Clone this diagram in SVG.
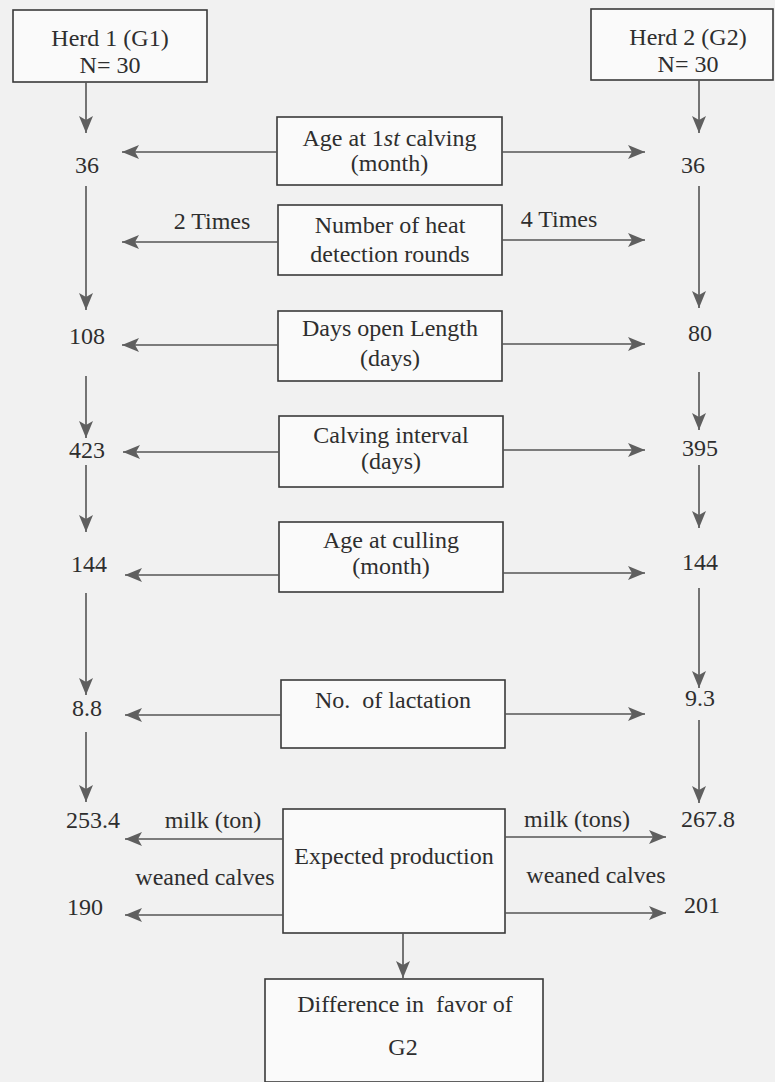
<svg xmlns="http://www.w3.org/2000/svg" width="775" height="1082" viewBox="0 0 775 1082">
<style>
.bg{fill:#f1f1f1}
.box{fill:#fafafa;stroke:#3a3a3a;stroke-width:1.6}
.t{font-family:'Liberation Serif','DejaVu Serif',serif;font-size:24px;fill:#2e2e2e;text-anchor:middle}
.c{fill:none;stroke:#555;stroke-width:1.6}
</style>
<defs>
<marker id="arr" markerUnits="userSpaceOnUse" markerWidth="18" markerHeight="16" refX="17" refY="7" orient="auto">
<path d="M0,0 L17,7 L0,14 L4,7 Z" fill="#5f5f5f"/>
</marker>
</defs>
<rect class="bg" x="0" y="0" width="775" height="1082"/>

<g id="herd1"><rect class="box" x="13" y="10" width="194" height="72"/>
<text class="t" x="110" y="46">Herd 1 (G1)</text><text class="t" x="110" y="73">N= 30</text></g>
<g id="herd2"><rect class="box" x="591" y="9" width="182" height="71"/>
<text class="t" x="688" y="45">Herd 2 (G2)</text><text class="t" x="688" y="72">N= 30</text></g>

<g id="age1"><rect class="box" x="277" y="117" width="225" height="68"/>
<text class="t" x="389.5" y="146">Age at 1<tspan font-style="italic">st</tspan> calving</text><text class="t" x="389.5" y="171">(month)</text></g>
<g id="heat"><rect class="box" x="278" y="205" width="224" height="70"/>
<text class="t" x="390" y="233">Number of heat</text><text class="t" x="390" y="262">detection rounds</text></g>
<g id="daysopen"><rect class="box" x="278" y="311" width="224" height="70"/>
<text class="t" x="390" y="336">Days open Length</text><text class="t" x="390" y="366">(days)</text></g>
<g id="calvint"><rect class="box" x="279" y="416" width="224" height="71"/>
<text class="t" x="391" y="443">Calving interval</text><text class="t" x="391" y="469">(days)</text></g>
<g id="culling"><rect class="box" x="279" y="522" width="224" height="70"/>
<text class="t" x="391" y="548">Age at culling</text><text class="t" x="391" y="574">(month)</text></g>
<g id="lact"><rect class="box" x="281" y="680" width="224" height="68"/>
<text class="t" x="393" y="708" xml:space="preserve">No.  of lactation</text></g>
<g id="prod"><rect class="box" x="283" y="809" width="222" height="124"/>
<text class="t" x="394" y="864">Expected production</text></g>
<g id="diff"><rect class="box" x="265" y="979" width="278" height="103"/>
<text class="t" x="405" y="1012" xml:space="preserve">Difference in  favor of</text><text class="t" x="403" y="1055">G2</text></g>

<g id="values">
<text class="t" x="87" y="173">36</text><text class="t" x="693" y="173">36</text>
<text class="t" x="212" y="229">2 Times</text><text class="t" x="559" y="227">4 Times</text>
<text class="t" x="87" y="344">108</text><text class="t" x="700" y="341">80</text>
<text class="t" x="87" y="458">423</text><text class="t" x="700" y="456">395</text>
<text class="t" x="89" y="572">144</text><text class="t" x="700" y="570">144</text>
<text class="t" x="87" y="716">8.8</text><text class="t" x="700" y="706">9.3</text>
<text class="t" x="93" y="828">253.4</text><text class="t" x="708" y="827">267.8</text>
<text class="t" x="213" y="828">milk (ton)</text><text class="t" x="577" y="827">milk (tons)</text>
<text class="t" x="205" y="885">weaned calves</text><text class="t" x="596" y="883">weaned calves</text>
<text class="t" x="85" y="915">190</text><text class="t" x="702" y="913">201</text>
</g>

<g id="connectors" class="c">
<line x1="86" y1="82" x2="86" y2="133" marker-end="url(#arr)"/>
<line x1="86" y1="186" x2="86" y2="310" marker-end="url(#arr)"/>
<line x1="86" y1="376" x2="86" y2="438" marker-end="url(#arr)"/>
<line x1="86" y1="465" x2="86" y2="532" marker-end="url(#arr)"/>
<line x1="86" y1="593" x2="86" y2="695" marker-end="url(#arr)"/>
<line x1="86" y1="732" x2="86" y2="802" marker-end="url(#arr)"/>
<line x1="699" y1="80" x2="699" y2="133" marker-end="url(#arr)"/>
<line x1="699" y1="186" x2="699" y2="308" marker-end="url(#arr)"/>
<line x1="699" y1="372" x2="699" y2="430" marker-end="url(#arr)"/>
<line x1="699" y1="465" x2="699" y2="528" marker-end="url(#arr)"/>
<line x1="699" y1="588" x2="699" y2="688" marker-end="url(#arr)"/>
<line x1="699" y1="720" x2="699" y2="803" marker-end="url(#arr)"/>
<line x1="277" y1="152" x2="122" y2="152" marker-end="url(#arr)"/>
<line x1="502" y1="152" x2="645" y2="152" marker-end="url(#arr)"/>
<line x1="278" y1="242" x2="122" y2="242" marker-end="url(#arr)"/>
<line x1="502" y1="240" x2="645" y2="240" marker-end="url(#arr)"/>
<line x1="278" y1="345" x2="122" y2="345" marker-end="url(#arr)"/>
<line x1="502" y1="344" x2="645" y2="344" marker-end="url(#arr)"/>
<line x1="279" y1="452" x2="123" y2="452" marker-end="url(#arr)"/>
<line x1="503" y1="450" x2="645" y2="450" marker-end="url(#arr)"/>
<line x1="279" y1="575" x2="125" y2="575" marker-end="url(#arr)"/>
<line x1="503" y1="573" x2="645" y2="573" marker-end="url(#arr)"/>
<line x1="281" y1="715" x2="125" y2="715" marker-end="url(#arr)"/>
<line x1="505" y1="714" x2="645" y2="714" marker-end="url(#arr)"/>
<line x1="283" y1="839" x2="125" y2="839" marker-end="url(#arr)"/>
<line x1="505" y1="837" x2="666" y2="837" marker-end="url(#arr)"/>
<line x1="283" y1="915" x2="125" y2="915" marker-end="url(#arr)"/>
<line x1="505" y1="913" x2="666" y2="913" marker-end="url(#arr)"/>
<line x1="403" y1="933" x2="403" y2="978" marker-end="url(#arr)"/>
</g>
</svg>
